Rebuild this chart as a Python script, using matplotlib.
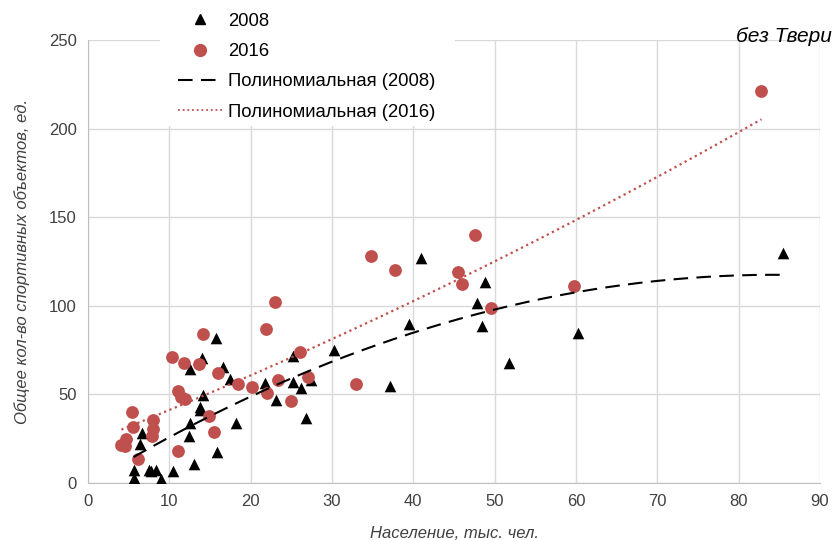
import numpy as np
import matplotlib
matplotlib.use('Agg')
import matplotlib.pyplot as plt
from matplotlib.lines import Line2D
from matplotlib.patches import Rectangle

plt.rcParams['font.family'] = ['Liberation Sans', 'DejaVu Sans']

#---------------data---------------
x_2008 = [5.6, 5.7, 6.4, 6.6, 7.5, 7.7, 8.4, 9.0, 10.4, 12.4, 12.6, 12.6, 13.0,
          13.8, 13.8, 14.0, 14.1, 15.7, 15.8, 16.6, 17.5, 18.2, 21.8, 23.1,
          25.2, 25.2, 26.2, 26.8, 27.4, 30.3, 37.1, 39.5, 40.9, 47.8, 48.5,
          48.8, 51.8, 60.2, 85.4]
y_2008 = [3.1, 7.2, 21.9, 28.3, 7.6, 6.6, 7.6, 2.1, 6.8, 26.4, 33.6, 64.2, 11.0,
          43.0, 41.2, 70.4, 49.7, 81.8, 17.6, 65.7, 58.6, 33.6, 56.5, 46.8,
          71.7, 56.8, 53.5, 36.5, 58.2, 74.9, 54.9, 89.7, 126.7, 101.6, 88.7,
          113.6, 67.6, 84.8, 129.9]

x_2016 = [4.1, 4.6, 4.7, 5.4, 5.5, 6.1, 7.9, 8.0, 8.0, 10.3, 11.1, 11.1, 11.4,
          11.9, 11.8, 13.7, 14.2, 14.9, 15.5, 16.0, 18.4, 20.2, 21.9, 22.0,
          23.0, 23.4, 25.0, 26.1, 27.0, 32.9, 34.8, 37.7, 45.5, 46.0, 47.6,
          49.5, 59.8, 82.8]
y_2016 = [21.3, 21.0, 24.7, 39.9, 31.7, 13.8, 26.6, 35.5, 30.2, 71.0, 52.1, 18.0,
          48.4, 47.2, 68.0, 67.0, 84.2, 37.8, 28.9, 62.0, 55.9, 53.9, 86.7, 51.0,
          102.2, 57.9, 46.1, 73.8, 59.8, 56.1, 128.0, 120.0, 119.1, 112.1, 140.1,
          98.9, 111.0, 221.1]

x_ticks = [0, 10, 20, 30, 40, 50, 60, 70, 80, 90]
y_ticks = [0, 50, 100, 150, 200, 250]

red = '#C0504D'
grid_col = '#d9d9d9'

#---------------polynomial trend lines (order 2, like Excel)---------------
def trend(x, y):
    c = np.polyfit(x, y, 2)
    xs = np.linspace(min(x), max(x), 200)
    return xs, np.polyval(c, xs)

tx08, ty08 = trend(x_2008, y_2008)
tx16, ty16 = trend(x_2016, y_2016)

#---------------plot---------------
W, H = 832, 540
fig = plt.figure(figsize=(W/100, H/100), dpi=100)
ax = fig.add_axes([88/W, 1-483/H, (820-88)/W, (483-40)/H])

ax.scatter(x_2008, y_2008, marker='^', s=70, color='black', zorder=3, linewidths=0)
ax.scatter(x_2016, y_2016, marker='o', s=85, color=red, zorder=3, linewidths=0)
ax.plot(tx08, ty08, color='black', lw=1.5, dashes=(7, 4), zorder=4)
ax.plot(tx16, ty16, color=red, lw=1.6, linestyle=(0, (1, 1.6)), zorder=4)

ax.set_xlim(0, 90)
ax.set_ylim(0, 250)
ax.set_xticks(x_ticks)
ax.set_yticks(y_ticks)
ax.tick_params(length=0, labelsize=12, colors='#404040', pad=8)
ax.grid(True, color=grid_col, lw=1)
ax.set_axisbelow(True)
for s in ['top', 'right']:
    ax.spines[s].set_visible(False)
for s in ['left', 'bottom']:
    ax.spines[s].set_color('#bfbfbf')

ax.set_xlabel('Население, тыс. чел.', fontsize=12, style='italic', color='#404040', labelpad=12)
ax.set_ylabel('Общее кол-во спортивных объектов, ед.', fontsize=12, style='italic',
              color='#404040', labelpad=14)

fig.text(1.0, 1-36/H, 'без Твери', ha='right', va='center', fontsize=15, style='italic')

# white area behind the legend (hides the top gridline there)
fig.patches.append(Rectangle((160/W, 1-126/H), (455-160)/W, 126/H, transform=fig.transFigure,
                             facecolor='white', edgecolor='none', zorder=1))

handles = [
    Line2D([], [], marker='^', color='black', ls='none', markersize=7.5),
    Line2D([], [], marker='o', color=red, ls='none', markersize=8.5),
    Line2D([], [], color='black', lw=1.5, dashes=(7, 4)),
    Line2D([], [], color=red, lw=1.3, linestyle=(0, (1, 1.6))),
]
labels = ['2008', '2016', 'Полиномиальная (2008)', 'Полиномиальная (2016)']
leg = fig.legend(handles, labels, loc='upper left', bbox_to_anchor=(163/W, 1+2/H),
                 frameon=False, fontsize=13.3, handlelength=2.4, handletextpad=0.33,
                 labelspacing=0.72, borderpad=0.3)
leg.set_zorder(2)

fig.savefig('out.png', dpi=100)
